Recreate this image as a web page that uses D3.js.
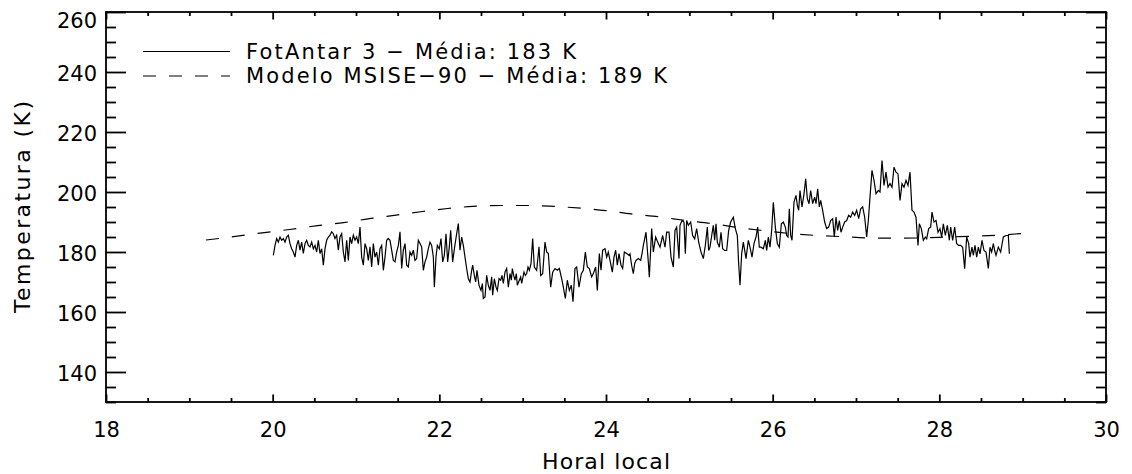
<!DOCTYPE html>
<html>
<head>
<meta charset="utf-8">
<script src="https://cdn.jsdelivr.net/npm/d3@7"></script>
<style>
  html, body { margin: 0; padding: 0; background: #fff; }
  svg { display: block; }
  text { font-family: "DejaVu Sans", sans-serif; fill: #000; }
</style>
</head>
<body>
<svg id="chart" width="1132" height="474"></svg>
<script>
// ---------------- DATA ----------------
const xTicksMajor = [18, 20, 22, 24, 26, 28, 30];
const yTicksMajor = [140, 160, 180, 200, 220, 240, 260];
const xTitle = "Horal local";
const yTitle = "Temperatura (K)";
const legendLabels = ["FotAntar 3 \u2212 Média: 183 K", "Modelo MSISE\u221290 \u2212 Média: 189 K"];

// FotAntar 3 measurement: [local hour, temperature K]
const fotAntar = [
[20.008,178.9],[20.028,182.2],[20.048,184.5],[20.068,183.3],[20.088,185.0],[20.108,183.9],[20.128,184.5],[20.148,183.3],[20.168,185.0],[20.188,185.6],
[20.208,182.8],[20.228,181.1],[20.248,180.0],[20.268,178.3],[20.288,182.2],[20.308,183.9],[20.328,180.6],[20.348,183.3],[20.368,179.5],[20.388,182.8],
[20.408,183.9],[20.428,182.2],[20.448,181.7],[20.468,183.3],[20.488,181.1],[20.508,182.2],[20.528,180.0],[20.548,183.9],[20.568,179.5],[20.588,181.1],
[20.608,175.6],[20.628,181.1],[20.648,183.9],[20.668,185.0],[20.688,185.6],[20.708,186.7],[20.728,186.1],[20.748,184.5],[20.768,185.6],[20.788,180.6],
[20.808,185.0],[20.828,186.1],[20.848,180.0],[20.868,176.7],[20.888,183.9],[20.908,177.2],[20.928,185.0],[20.948,182.8],[20.968,185.6],[20.988,183.9],
[21.008,185.0],[21.028,182.8],[21.048,188.3],[21.068,178.3],[21.088,175.6],[21.108,182.8],[21.128,181.1],[21.148,177.2],[21.168,181.7],[21.188,175.0],
[21.208,182.8],[21.228,178.3],[21.248,180.0],[21.268,175.6],[21.288,181.1],[21.308,182.2],[21.328,173.9],[21.348,178.3],[21.368,183.9],[21.388,184.5],
[21.408,183.9],[21.428,180.6],[21.448,177.2],[21.468,176.7],[21.488,180.0],[21.508,182.2],[21.528,186.7],[21.548,174.5],[21.568,180.6],[21.588,182.8],
[21.608,175.6],[21.628,175.0],[21.648,180.0],[21.668,178.9],[21.688,180.6],[21.708,177.2],[21.728,177.8],[21.748,183.9],[21.768,182.8],[21.788,181.7],
[21.808,173.9],[21.828,176.7],[21.848,178.3],[21.868,181.1],[21.888,183.3],[21.908,182.2],[21.928,178.3],[21.940,168.3],[21.960,178.3],[21.976,182.2],
[22.000,181.1],[22.020,184.5],[22.040,176.7],[22.060,178.9],[22.080,186.1],[22.100,176.7],[22.120,181.7],[22.136,187.2],[22.160,176.7],[22.184,181.7],
[22.208,186.1],[22.228,189.5],[22.248,180.6],[22.268,185.0],[22.288,182.2],[22.308,178.3],[22.328,174.5],[22.348,171.1],[22.368,170.0],[22.388,173.9],
[22.400,175.6],[22.420,172.2],[22.436,170.0],[22.452,173.9],[22.476,168.9],[22.500,167.2],[22.516,169.5],[22.528,164.5],[22.548,165.0],[22.568,172.2],
[22.588,168.9],[22.608,167.2],[22.628,171.7],[22.640,165.6],[22.660,171.1],[22.680,168.3],[22.696,167.2],[22.716,171.1],[22.736,170.6],[22.752,172.2],
[22.768,169.5],[22.788,173.3],[22.808,174.5],[22.828,168.3],
[22.848,172.8],[22.864,170.6],[22.876,174.5],[22.892,172.2],[22.908,170.6],[22.924,172.8],[22.936,168.9],[22.960,170.6],[22.976,171.7],[22.988,169.5],
[23.016,173.3],[23.032,172.2],[23.048,172.8],[23.064,175.0],[23.080,173.9],[23.100,176.1],[23.120,184.5],[23.140,175.0],[23.168,173.9],[23.196,181.7],
[23.216,172.2],[23.240,172.8],[23.268,183.3],[23.288,180.0],[23.308,179.5],[23.336,168.3],[23.360,173.3],[23.388,174.5],[23.416,173.9],[23.440,174.5],
[23.468,171.1],[23.488,168.3],[23.512,164.5],[23.536,170.6],[23.560,167.2],[23.584,168.9],[23.604,163.4],[23.628,174.5],[23.648,175.0],[23.676,168.3],
[23.704,172.8],[23.728,173.9],[23.752,180.0],[23.776,175.0],[23.800,174.5],[23.828,171.7],[23.848,172.8],[23.876,175.0],[23.896,167.2],[23.920,179.5],
[23.940,173.9],[23.960,180.6],[23.988,181.1],[24.008,178.3],[24.028,180.0],[24.048,177.2],[24.076,173.3],[24.096,178.3],[24.116,180.6],[24.136,175.6],
[24.156,179.5],[24.180,175.6],[24.200,174.5],[24.220,180.0],[24.248,179.5],[24.276,178.9],
[24.288,179.4],[24.308,175.5],[24.328,172.8],[24.344,176.1],[24.360,177.2],[24.388,177.8],[24.416,177.2],[24.432,179.4],[24.448,182.2],[24.464,184.4],
[24.480,186.6],[24.508,176.6],[24.520,171.6],[24.548,187.8],[24.568,180.0],[24.596,185.0],[24.620,183.3],[24.648,181.6],[24.680,185.5],[24.708,181.6],
[24.728,186.6],[24.756,186.6],[24.780,178.3],[24.808,175.0],[24.828,187.2],[24.848,188.3],[24.876,177.8],[24.888,188.9],[24.912,190.5],[24.936,190.0],
[24.952,179.4],[24.968,190.5],[24.988,188.9],[25.016,190.0],[25.040,185.5],[25.064,184.4],[25.088,187.8],[25.112,183.3],[25.140,180.0],[25.168,177.8],
[25.192,182.2],[25.216,188.3],[25.232,180.5],[25.248,181.6],[25.272,186.1],[25.288,188.9],[25.304,183.9],[25.320,189.4],[25.336,183.3],[25.360,181.6],
[25.380,186.6],[25.400,181.1],[25.424,180.5],[25.448,180.5],[25.472,187.2],[25.496,190.0],[25.528,191.6],[25.552,187.8],[25.576,185.5],[25.592,176.1],
[25.608,168.9],[25.628,179.4],[25.648,183.3],[25.680,177.8],[25.708,183.9],
[25.728,181.6],[25.752,178.3],[25.776,182.8],[25.800,185.0],[25.820,188.3],[25.840,181.6],[25.860,181.6],[25.888,181.1],[25.912,183.9],[25.928,180.5],
[25.948,185.0],[25.968,181.6],[25.988,187.2],[26.008,196.6],[26.032,188.3],[26.056,182.8],[26.080,181.6],[26.104,189.4],[26.128,190.0],[26.152,188.3],
[26.168,185.5],[26.184,185.0],[26.200,194.4],[26.216,185.5],[26.232,183.9],[26.256,196.6],[26.280,198.9],[26.296,195.5],[26.312,193.9],[26.328,200.5],
[26.352,195.0],[26.376,199.4],[26.396,204.4],[26.416,197.8],[26.436,196.1],[26.456,200.5],[26.480,196.1],[26.504,198.3],[26.520,196.1],[26.540,201.1],
[26.560,195.0],[26.576,197.2],[26.600,193.9],[26.624,190.0],[26.648,187.8],[26.672,188.3],[26.696,190.5],[26.720,191.1],[26.740,185.0],[26.760,191.6],
[26.780,187.2],[26.800,190.5],[26.820,186.6],[26.840,188.3],[26.864,190.0],[26.888,190.5],[26.912,192.2],[26.936,191.6],[26.960,193.3],[26.984,192.2],
[27.008,193.9],[27.032,191.1],[27.056,194.4],[27.080,195.0],[27.104,191.6],[27.128,185.0],[27.148,190.5],
[27.168,198.3],[27.192,207.2],[27.216,203.9],[27.240,199.4],[27.268,200.5],[27.288,200.0],[27.312,210.5],[27.336,202.2],[27.360,206.6],[27.384,201.6],
[27.408,202.8],[27.432,201.6],[27.456,208.3],[27.480,206.6],[27.504,206.1],[27.528,197.2],[27.552,202.8],[27.576,201.6],[27.600,203.9],[27.624,202.2],
[27.648,206.6],[27.672,193.9],[27.696,193.3],[27.720,191.6],[27.744,182.2],[27.760,189.4],[27.784,187.8],[27.808,183.9],[27.832,185.0],[27.848,184.4],
[27.872,187.8],[27.896,188.3],[27.912,193.3],[27.936,190.0],[27.960,190.5],[27.984,186.6],[28.008,187.8],[28.028,185.0],[28.048,189.4],[28.072,185.5],
[28.096,188.9],[28.120,183.9],[28.136,188.3],[28.160,183.9],[28.184,188.3],[28.208,182.8],[28.232,182.2],[28.256,182.2],[28.280,181.6],[28.304,174.4],
[28.328,185.0],[28.352,182.8],[28.368,178.3],[28.392,181.6],[28.408,178.9],[28.428,182.2],[28.448,178.3],[28.468,181.6],[28.488,179.4],[28.512,183.9],
[28.536,180.5],[28.560,180.0],[28.588,174.5],[28.608,181.6],[28.628,180.0],[28.648,182.8],[28.664,180.5],[28.680,178.9],[28.708,181.6],[28.736,180.0],
[28.768,185.0],[28.800,185.5],[28.828,185.5],[28.840,179.4]
];

// MSISE-90 model: [local hour, temperature K]
const msiseModel = [
[19.2,184.0],[19.5,185.0],[19.85,186.3],[20.2,187.5],[20.54,188.8],[20.85,189.8],[21.18,191.2],[21.48,192.3],
[21.8,193.5],[22.1,194.5],[22.4,195.2],[22.75,195.5],[23.07,195.5],[23.37,195.2],[23.7,194.6],[24.0,193.8],
[24.3,192.7],[24.64,191.7],[24.96,190.5],[25.27,189.5],[25.6,188.1],[25.9,187.1],[26.23,186.1],[26.54,185.5],
[26.85,185.1],[27.13,184.7],[27.47,184.6],[27.8,184.7],[28.1,185.0],[28.45,185.3],[28.76,185.7],[29.0,186.2]
];

// ---------------- CHART ----------------
const svg = d3.select("#chart");
const pLeft = 106, pRight = 1106, pTop = 12, pBottom = 402;
const x = d3.scaleLinear().domain([18, 30]).range([pLeft, pRight]);
const y = d3.scaleLinear().domain([130, 260]).range([pBottom, pTop]);

const minorX = d3.range(18, 30.001, 0.5).filter(v => !xTicksMajor.includes(v));
const minorY = d3.range(130, 260.001, 5).filter(v => !yTicksMajor.includes(v));

function styleAxis(g) {
  g.select(".domain").remove();
  g.selectAll(".tick line").attr("stroke", "#000").attr("stroke-width", 1.8);
  g.selectAll(".tick text").style("font-size", "21px").style("font-family", '"DejaVu Sans", sans-serif').attr("fill", "#000");
}

// bottom axis
svg.append("g").attr("transform", `translate(0,${pBottom})`)
  .call(d3.axisBottom(x).tickValues(xTicksMajor).tickSize(-7.5).tickPadding(20).tickFormat(d3.format("d")))
  .call(styleAxis);
svg.append("g").attr("transform", `translate(0,${pBottom})`)
  .call(d3.axisBottom(x).tickValues(minorX).tickSize(-4).tickFormat(""))
  .call(styleAxis);
// top axis
svg.append("g").attr("transform", `translate(0,${pTop})`)
  .call(d3.axisTop(x).tickValues(xTicksMajor).tickSize(-7.5).tickFormat(""))
  .call(styleAxis);
svg.append("g").attr("transform", `translate(0,${pTop})`)
  .call(d3.axisTop(x).tickValues(minorX).tickSize(-4).tickFormat(""))
  .call(styleAxis);
// left axis
const gl = svg.append("g").attr("transform", `translate(${pLeft},0)`)
  .call(d3.axisLeft(y).tickValues(yTicksMajor).tickSize(-20).tickPadding(9).tickFormat(d3.format("d")))
  .call(styleAxis);
gl.selectAll(".tick text").attr("y", d => d === 260 ? 9 : 1.5);
svg.append("g").attr("transform", `translate(${pLeft},0)`)
  .call(d3.axisLeft(y).tickValues(minorY).tickSize(-10).tickFormat(""))
  .call(styleAxis);
// right axis
svg.append("g").attr("transform", `translate(${pRight},0)`)
  .call(d3.axisRight(y).tickValues(yTicksMajor).tickSize(-20).tickFormat(""))
  .call(styleAxis);
svg.append("g").attr("transform", `translate(${pRight},0)`)
  .call(d3.axisRight(y).tickValues(minorY).tickSize(-10).tickFormat(""))
  .call(styleAxis);

// frame
svg.append("rect").attr("x", pLeft).attr("y", pTop).attr("width", pRight - pLeft).attr("height", pBottom - pTop)
  .attr("fill", "none").attr("stroke", "#000").attr("stroke-width", 1.8);

// lines
const lineFot = d3.line().x(d => x(d[0])).y(d => y(d[1]));
const lineModel = d3.line().x(d => x(d[0])).y(d => y(d[1])).curve(d3.curveMonotoneX);

svg.append("path").datum(msiseModel).attr("d", lineModel)
  .attr("fill", "none").attr("stroke", "#000").attr("stroke-width", 1.2).attr("stroke-dasharray", "13,13");
svg.append("path").datum(fotAntar).attr("d", lineFot)
  .attr("fill", "none").attr("stroke", "#000").attr("stroke-width", 1.2).attr("stroke-linejoin", "miter");

// legend
const legend = svg.append("g");
const legendRows = [
  {label: legendLabels[0], dash: null, ly: 51.5, ty: 58.5, len: 330},
  {label: legendLabels[1], dash: "13,13", ly: 76, ty: 83, len: 421}
];
legendRows.forEach(r => {
  legend.append("line").attr("x1", 143).attr("x2", 230).attr("y1", r.ly).attr("y2", r.ly)
    .attr("stroke", "#000").attr("stroke-width", 1.2).attr("stroke-dasharray", r.dash);
  legend.append("text").attr("x", 246).attr("y", r.ty).style("font-size", "21px")
    .attr("textLength", r.len).attr("lengthAdjust", "spacing").text(r.label);
});

// axis titles
svg.append("text").attr("x", 606).attr("y", 469).attr("text-anchor", "middle")
  .style("font-size", "22px").attr("textLength", 128).attr("lengthAdjust", "spacing").text(xTitle);
svg.append("text").attr("transform", "translate(30,207) rotate(-90)").attr("text-anchor", "middle")
  .style("font-size", "22px").attr("textLength", 212).attr("lengthAdjust", "spacing").text(yTitle);
</script>
</body>
</html>
